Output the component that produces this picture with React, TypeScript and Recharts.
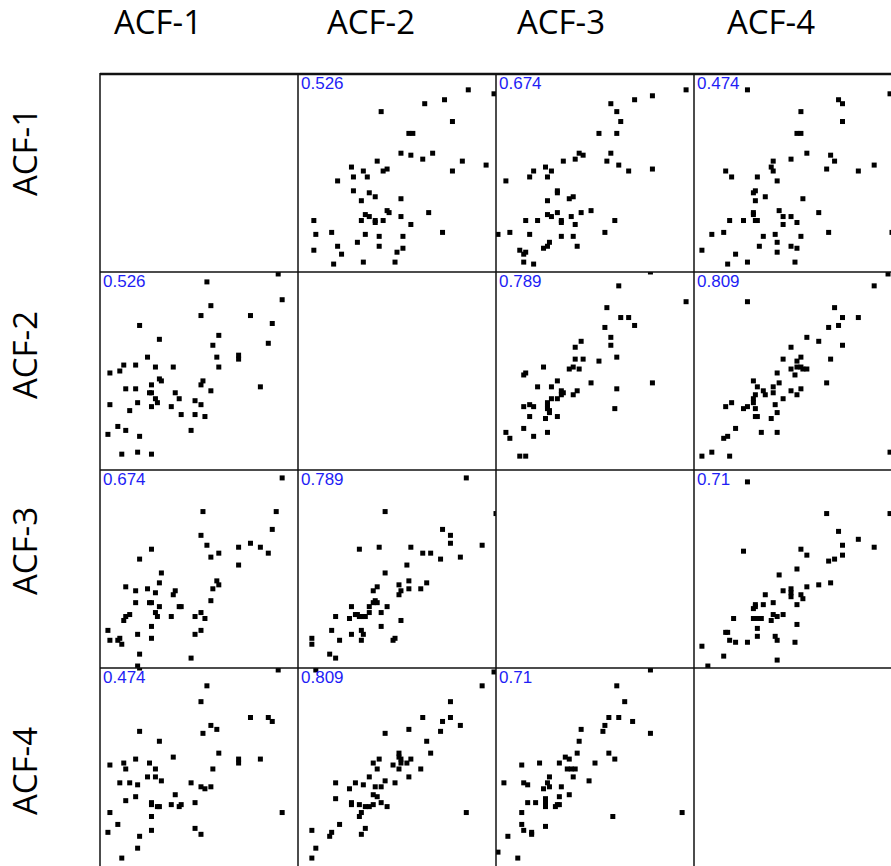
import React from "react";
import { ScatterChart, Scatter, XAxis, YAxis } from "recharts";

type Pt = [number, number];

const vars = ["ACF-1", "ACF-2", "ACF-3", "ACF-4"];

// upper-triangle panels, [column variable, row variable]
const acf2VsAcf1: Pt[] = [
  [86, 92], [99, 90], [74, 87], [64, 85], [42, 81], [78, 76], [56, 70], [58, 70],
  [52, 60], [57, 59], [68, 60], [63, 57], [83, 56], [40, 56], [95, 54], [27, 53],
  [45, 52], [43, 51], [33, 51], [35, 48], [28, 48], [78, 51], [20, 46], [28, 41],
  [36, 40], [39, 38], [32, 36], [52, 37], [45, 31], [46, 30], [66, 30], [34, 29],
  [36, 28], [52, 28], [39, 26], [39, 25], [32, 26], [43, 26], [8, 26], [57, 24],
  [17, 20], [9, 19], [34, 19], [73, 20], [41, 18], [53, 18], [30, 15], [20, 13],
  [41, 13], [53, 12], [8, 11], [50, 10], [22, 9], [18, 4], [33, 5], [49, 5],
];

const acf3VsAcf1: Pt[] = [
  [96, 92], [79, 89], [70, 87], [58, 85], [61, 81], [63, 76], [52, 70], [61, 70],
  [58, 60], [42, 60], [44, 59], [40, 57], [34, 56], [56, 56], [62, 54], [67, 51],
  [79, 52], [25, 53], [19, 51], [17, 48], [28, 51], [26, 48], [5, 46], [31, 41],
  [31, 40], [39, 38], [37, 37], [26, 36], [48, 31], [43, 30], [31, 30], [26, 29],
  [28, 28], [38, 28], [15, 26], [21, 26], [33, 26], [33, 25], [60, 26], [40, 24],
  [1, 19], [7, 20], [17, 19], [33, 18], [39, 18], [55, 20], [27, 15], [26, 13],
  [24, 12], [41, 13], [12, 11], [15, 10], [14, 9], [14, 5], [19, 4],
];

const acf4VsAcf1: Pt[] = [
  [27, 92], [99, 90], [73, 87], [75, 85], [54, 81], [75, 76], [52, 70], [54, 70],
  [57, 60], [69, 59], [71, 56], [49, 57], [40, 56], [91, 54], [39, 53], [40, 51],
  [67, 52], [83, 51], [16, 51], [19, 48], [32, 48], [42, 46], [31, 41], [30, 40],
  [36, 38], [55, 37], [31, 36], [43, 31], [63, 30], [30, 30], [30, 29], [45, 28],
  [49, 28], [52, 25], [18, 26], [25, 26], [31, 26], [32, 26], [45, 24], [9, 19],
  [15, 20], [35, 18], [41, 19], [54, 18], [68, 20], [42, 15], [33, 13], [49, 13],
  [52, 12], [4, 11], [42, 10], [21, 9], [17, 4], [27, 5], [51, 5], [100, 20],
];

const acf3VsAcf2: Pt[] = [
  [62, 93], [96, 85], [56, 82], [63, 77], [67, 77], [70, 73], [55, 72], [58, 67],
  [58, 63], [43, 65], [40, 62], [40, 56], [44, 56], [52, 55], [61, 57], [24, 52],
  [15, 49], [14, 48], [37, 51], [39, 52], [42, 51], [31, 45], [48, 44], [79, 44],
  [21, 42], [28, 42], [33, 40], [34, 39], [33, 38], [41, 40], [39, 38], [61, 41],
  [31, 36], [28, 36], [26, 34], [26, 33], [26, 32], [26, 31], [27, 30], [17, 33],
  [19, 32], [14, 32], [60, 31], [27, 29], [17, 27], [25, 26], [31, 27], [14, 21],
  [5, 19], [7, 16], [26, 19], [19, 17], [12, 7], [15, 7], [78, 100],
];

const acf4VsAcf2: Pt[] = [
  [91, 93], [27, 85], [71, 82], [75, 77], [83, 77], [73, 73], [68, 72], [57, 67],
  [63, 65], [75, 63], [49, 62], [45, 56], [54, 57], [52, 55], [69, 56], [42, 49],
  [49, 51], [51, 48], [52, 52], [54, 52], [55, 51], [57, 51], [30, 45], [43, 44],
  [67, 44], [32, 42], [40, 42], [35, 40], [36, 38], [49, 40], [54, 41], [40, 39],
  [52, 38], [31, 38], [30, 36], [30, 34], [45, 36], [19, 34], [16, 32], [31, 31],
  [27, 32], [25, 31], [41, 33], [42, 29], [31, 27], [32, 27], [39, 26], [21, 21],
  [34, 19], [42, 19], [17, 17], [15, 16], [4, 7], [9, 9], [18, 7], [99, 9], [98, 99],
];

const acf4VsAcf3: Pt[] = [
  [27, 94], [67, 78], [99, 78], [73, 69], [83, 65], [75, 62], [91, 61], [54, 60],
  [57, 57], [75, 57], [71, 55], [68, 54], [25, 59], [52, 50], [43, 47], [57, 41],
  [63, 42], [69, 43], [45, 39], [49, 40], [49, 38], [49, 36], [54, 37], [55, 35],
  [36, 37], [40, 33], [52, 32], [31, 32], [30, 30], [31, 31], [35, 32], [40, 27],
  [42, 26], [45, 27], [39, 24], [20, 25], [30, 25], [32, 25], [34, 25], [52, 22],
  [32, 20], [16, 18], [17, 18], [32, 16], [41, 16], [42, 14], [18, 14], [21, 13],
  [27, 13], [51, 13], [4, 11], [15, 6], [42, 4], [7, 1],
];

const corrLabels = ["0.526", "0.674", "0.474", "0.789", "0.809", "0.71"];

const upper: { row: number; col: number; pts: Pt[]; r: string }[] = [
  { row: 0, col: 1, pts: acf2VsAcf1, r: corrLabels[0] },
  { row: 0, col: 2, pts: acf3VsAcf1, r: corrLabels[1] },
  { row: 0, col: 3, pts: acf4VsAcf1, r: corrLabels[2] },
  { row: 1, col: 2, pts: acf3VsAcf2, r: corrLabels[3] },
  { row: 1, col: 3, pts: acf4VsAcf2, r: corrLabels[4] },
  { row: 2, col: 3, pts: acf4VsAcf3, r: corrLabels[5] },
];

const colX = [100, 298, 496, 694];
const rowY = [74, 272, 470, 668];
const SIZE = 198;
const headX = [158, 371, 561, 771];
const sideY = [152, 355, 551, 771];

const Square = (p: any) => (
  <rect x={p.cx - 2.5} y={p.cy - 2.5} width={5} height={5} fill="#000" />
);

function Panel({ row, col, data, r }: { row: number; col: number; data: { x: number; y: number }[]; r: string }) {
  return (
    <div style={{ position: "absolute", left: colX[col], top: rowY[row], width: SIZE, height: SIZE }}>
      <ScatterChart width={SIZE} height={SIZE} margin={{ top: 0, right: 0, bottom: 0, left: 0 }}>
        <XAxis type="number" dataKey="x" domain={[0, 100]} hide />
        <YAxis type="number" dataKey="y" domain={[0, 100]} hide />
        <Scatter data={data} shape={Square} isAnimationActive={false} />
      </ScatterChart>
      <div
        style={{
          position: "absolute",
          left: 3,
          top: 0,
          font: "17px 'Liberation Sans', Arial, sans-serif",
          color: "#1e1ef5",
        }}
      >
        {r}
      </div>
    </div>
  );
}

export default function App() {
  const panels: React.ReactNode[] = [];
  upper.forEach((u) => {
    panels.push(
      <Panel key={`u${u.row}${u.col}`} row={u.row} col={u.col} r={u.r}
        data={u.pts.map(([x, y]) => ({ x, y }))} />
    );
    panels.push(
      <Panel key={`l${u.row}${u.col}`} row={u.col} col={u.row} r={u.r}
        data={u.pts.map(([x, y]) => ({ x: y, y: x }))} />
    );
  });

  return (
    <div style={{ position: "absolute", left: 0, top: 0, width: 891, height: 866, overflow: "hidden", background: "#fff" }}>
      {panels}
      <svg width={891} height={866} style={{ position: "absolute", left: 0, top: 0, pointerEvents: "none" }}>
        {vars.map((v, i) => (
          <text key={`h${v}`} x={headX[i]} y={34} textAnchor="middle"
            fontFamily="'Open Sans', sans-serif" fontSize={33} fill="#000">
            {v}
          </text>
        ))}
        {vars.map((v, i) => (
          <text key={`s${v}`} x={0} y={0} textAnchor="middle"
            transform={`translate(37 ${sideY[i]}) rotate(-90)`}
            fontFamily="'Open Sans', sans-serif" fontSize={33} fill="#000">
            {v}
          </text>
        ))}
        <line x1={100} y1={74} x2={891} y2={74} stroke="#111" strokeWidth={2.5} />
        <line x1={100} y1={73} x2={100} y2={866} stroke="#111" strokeWidth={1.5} />
        {[298, 496, 694].map((x) => (
          <line key={`v${x}`} x1={x} y1={74} x2={x} y2={866} stroke="#111" strokeWidth={1.5} />
        ))}
        {[272, 470, 668].map((y) => (
          <line key={`hz${y}`} x1={100} y1={y} x2={891} y2={y} stroke="#111" strokeWidth={1.5} />
        ))}
      </svg>
    </div>
  );
}
